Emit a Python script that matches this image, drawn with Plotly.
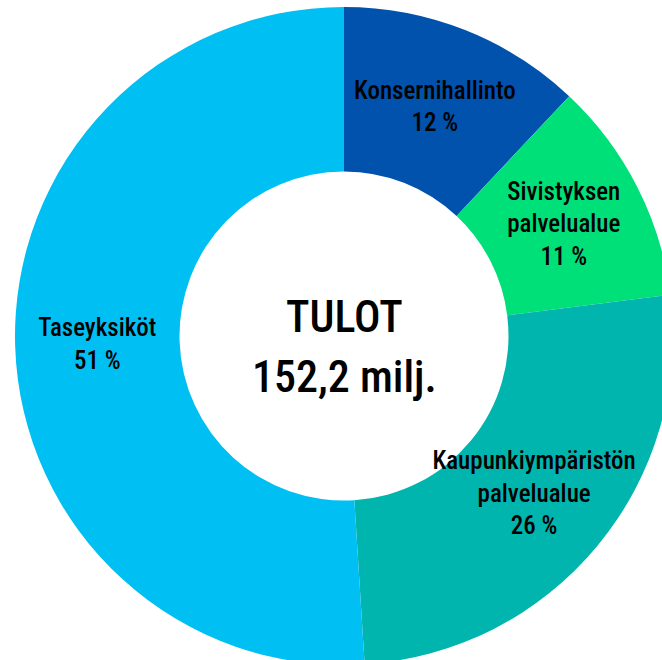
import plotly.graph_objects as go

categories = ["Konsernihallinto", "Sivistyksen<br>palvelualue", "Kaupunkiympäristön<br>palvelualue", "Taseyksiköt"]
shares = [12, 11, 26, 51]
colors = ["#0052AC", "#00E079", "#00B5AE", "#00BFF2"]
center_title = "TULOT"
center_total = "152,2 milj."

FONT = "Roboto Condensed, DejaVu Sans Condensed, sans-serif"

W, H = 680, 680
cx, cy_top, R = 344, 336, 329
cy = H - cy_top

fig = go.Figure(go.Pie(
    labels=categories,
    values=shares,
    sort=False,
    direction="clockwise",
    rotation=0,
    hole=0.5,
    marker=dict(colors=colors, line=dict(width=0)),
    texttemplate="%{label}<br>%{value} %",
    textposition="inside",
    insidetextorientation="horizontal",
    textfont=dict(family=FONT, size=25, color="black", weight=500),
    hoverinfo="label+percent",
    showlegend=False,
    domain=dict(x=[(cx - R) / W, (cx + R) / W], y=[(cy - R) / H, (cy + R) / H]),
))

fig.add_annotation(
    x=cx / W, y=cy / H, xref="paper", yref="paper", yshift=19,
    text=center_title, showarrow=False,
    font=dict(family=FONT, size=44, color="black", weight=500),
)
fig.add_annotation(
    x=cx / W, y=cy / H, xref="paper", yref="paper", yshift=-41,
    text=center_total, showarrow=False,
    font=dict(family=FONT, size=44, color="black", weight=500),
)

fig.update_layout(
    width=W, height=H,
    margin=dict(l=0, r=0, t=0, b=0),
    paper_bgcolor="white",
    plot_bgcolor="white",
    uniformtext=dict(minsize=25, mode="show"),
)

fig.write_html(
    "out.html",
    config={"displayModeBar": False},
    post_script="document.body.style.margin='0';document.body.style.overflow='hidden';document.documentElement.style.overflow='hidden';",
)
